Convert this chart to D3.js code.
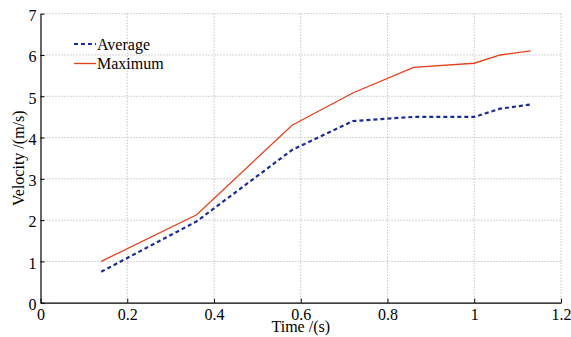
<!DOCTYPE html>
<html>
<head>
<meta charset="utf-8">
<script src="https://cdn.jsdelivr.net/npm/d3@7"></script>
<style>
  body { margin: 0; background: #fff; }
  svg text { font-family: "Liberation Serif", "Times New Roman", serif; }
</style>
</head>
<body>
<script>
// time (s)
var time = [0.14, 0.36, 0.58, 0.72, 0.86, 1.0, 1.06, 1.13];
// velocity (m/s)
var average = [0.75, 1.97, 3.7, 4.4, 4.5, 4.5, 4.7, 4.8];
var maximum = [1.0, 2.13, 4.3, 5.08, 5.7, 5.8, 6.0, 6.1];
var xTicks = [0, 0.2, 0.4, 0.6, 0.8, 1, 1.2];
var yTicks = [0, 1, 2, 3, 4, 5, 6, 7];
var seriesNames = ["Average", "Maximum"];

var width = 571, height = 337;
var plotLeft = 40.5, plotRight = 561, plotTop = 13.7, plotBottom = 302.7;
var serif = "'Liberation Serif', 'Times New Roman', serif";

var x = d3.scaleLinear().domain([0, 1.2]).range([plotLeft, plotRight]);
var y = d3.scaleLinear().domain([0, 7]).range([plotBottom, plotTop]);

var svg = d3.select("body")
    .append("svg")
    .attr("width", width)
    .attr("height", height)
    .attr("font-family", serif)
    .attr("font-size", 16);

// grid
svg.append("g")
    .selectAll("line")
    .data(xTicks.slice(1))
    .enter()
    .append("line")
    .attr("x1", function(d) { return x(d); })
    .attr("x2", function(d) { return x(d); })
    .attr("y1", plotTop)
    .attr("y2", plotBottom)
    .attr("stroke", "#aaa")
    .attr("stroke-width", 1)
    .attr("stroke-dasharray", "1,2");

svg.append("g")
    .selectAll("line")
    .data(yTicks.slice(1))
    .enter()
    .append("line")
    .attr("x1", plotLeft)
    .attr("x2", plotRight)
    .attr("y1", function(d) { return y(d); })
    .attr("y2", function(d) { return y(d); })
    .attr("stroke", "#aaa")
    .attr("stroke-width", 1)
    .attr("stroke-dasharray", "1,2");

// axes
var xAxis = d3.axisBottom(x).tickValues(xTicks).tickSizeInner(-4).tickSizeOuter(0).tickPadding(5.5)
    .tickFormat(function(d) { return String(d); });
var yAxis = d3.axisLeft(y).tickValues(yTicks).tickSizeInner(-4).tickSizeOuter(0).tickPadding(4)
    .tickFormat(function(d) { return String(d); });

var gx = svg.append("g").attr("transform", "translate(0," + plotBottom + ")").call(xAxis);
var gy = svg.append("g").attr("transform", "translate(" + plotLeft + ",0)").call(yAxis);

[gx, gy].forEach(function(g) {
    g.attr("font-size", 16).attr("font-family", serif);
    g.selectAll("path").attr("stroke", "#000").attr("stroke-width", 1.2);
    g.selectAll("line").attr("stroke", "#000");
    g.selectAll("text").attr("fill", "#000");
});
gx.selectAll("text").attr("dy", "0.71em");
gy.selectAll("text").attr("dy", "0.42em");

// lines
var line = d3.line()
    .x(function(d, i) { return x(time[i]); })
    .y(function(d) { return y(d); });

svg.append("path")
    .datum(maximum)
    .attr("d", line)
    .attr("fill", "none")
    .attr("stroke", "#e4401b")
    .attr("stroke-width", 1.3);

svg.append("path")
    .datum(average)
    .attr("d", line)
    .attr("fill", "none")
    .attr("stroke", "#1b2c94")
    .attr("stroke-width", 2.2)
    .attr("stroke-dasharray", "4,3");

// legend
var legend = svg.append("g");
var styles = [
    {color: "#1b2c94", width: 2.2, dash: "4,3"},
    {color: "#e4401b", width: 1.3, dash: null}
];
seriesNames.forEach(function(name, i) {
    var ly = 44 + i * 19.5;
    legend.append("line")
        .attr("x1", 74).attr("x2", 96)
        .attr("y1", ly).attr("y2", ly)
        .attr("stroke", styles[i].color)
        .attr("stroke-width", styles[i].width)
        .attr("stroke-dasharray", styles[i].dash);
    legend.append("text")
        .attr("x", 97)
        .attr("y", ly + 5.5)
        .text(name);
});

// axis labels
svg.append("text")
    .attr("x", (plotLeft + plotRight) / 2)
    .attr("y", 332)
    .attr("text-anchor", "middle")
    .text("Time /(s)");

svg.append("text")
    .attr("transform", "translate(24," + (plotTop + plotBottom) / 2 + ") rotate(-90)")
    .attr("text-anchor", "middle")
    .text("Velocity /(m/s)");
</script>
</body>
</html>
